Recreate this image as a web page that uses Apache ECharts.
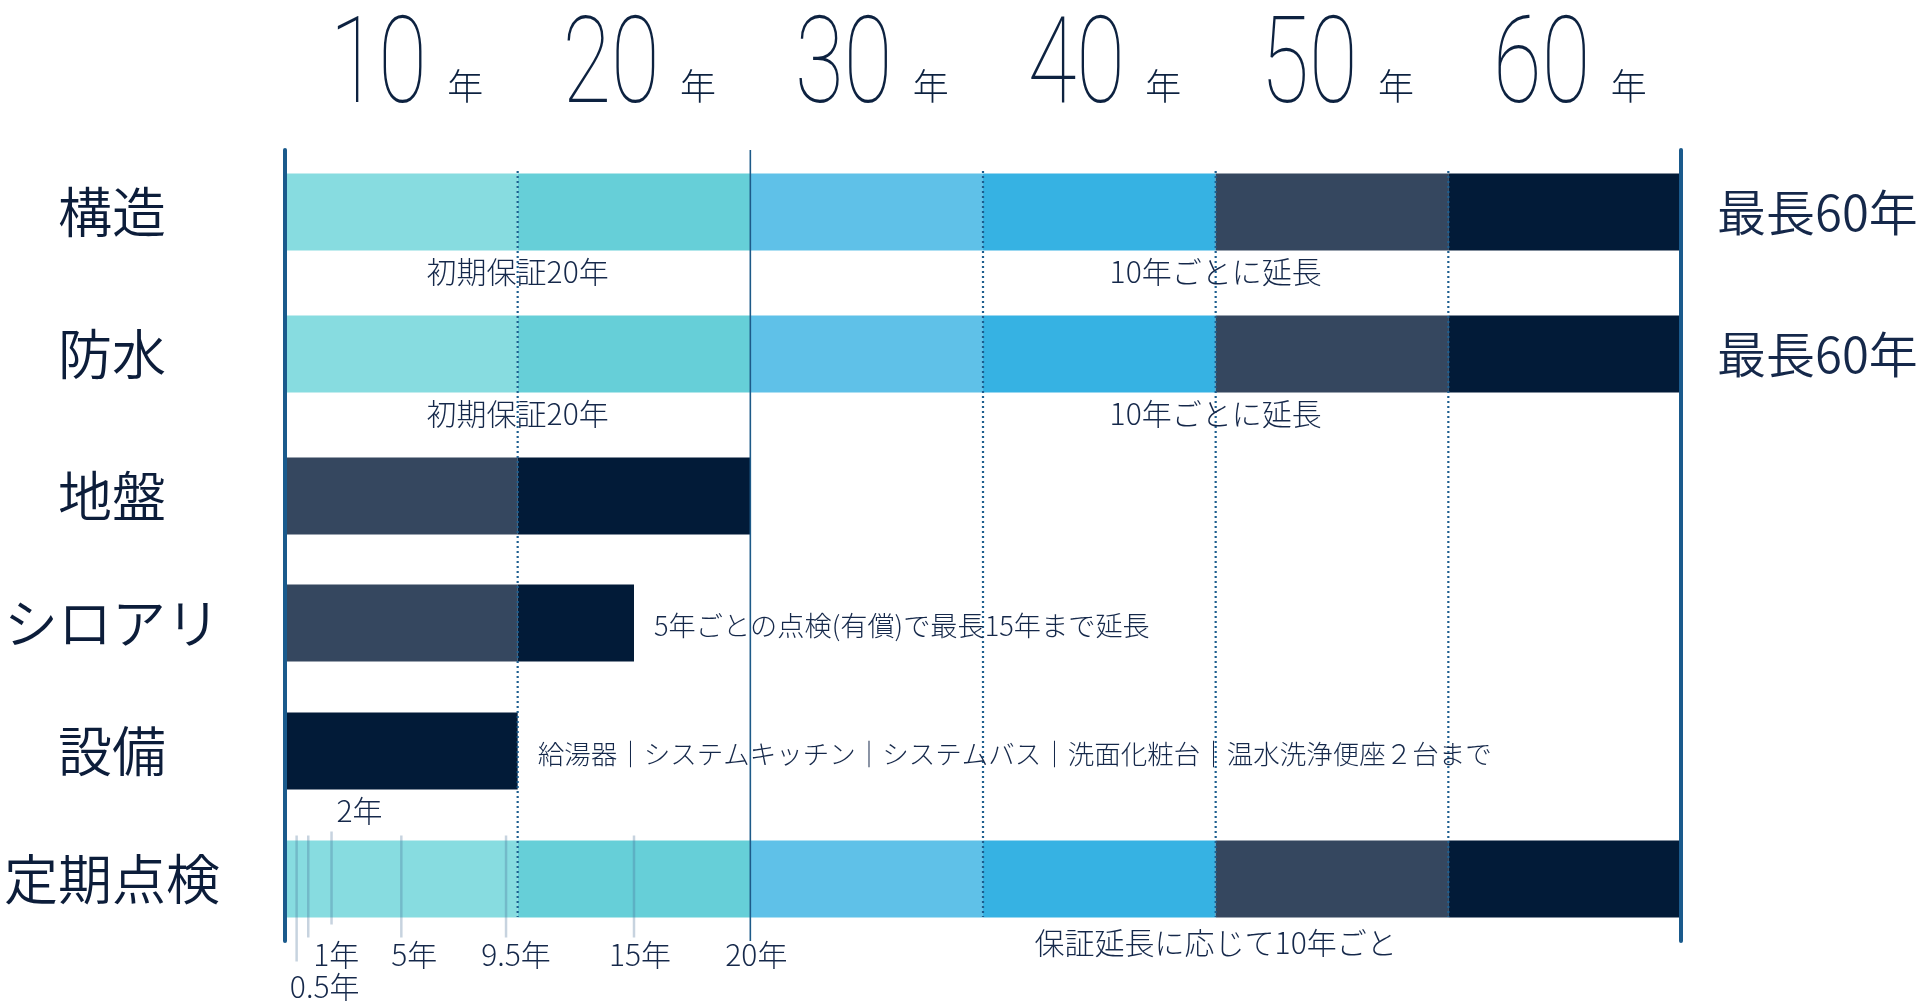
<!DOCTYPE html>
<html>
<head>
<meta charset="utf-8">
<script src="https://cdn.jsdelivr.net/npm/echarts@6/dist/echarts.min.js"></script>
<style>
html, body { margin: 0; padding: 0; background: #ffffff; }
#chart { width: 1920px; height: 1005px; }
</style>
</head>
<body>
<div id="chart"></div>
<script>
// ---------------- data ----------------
const upperRows = ['構造', '防水', '地盤'];
const lowerRows = ['シロアリ', '設備', '定期点検'];
const decadeLabels = ['10', '20', '30', '40', '50', '60'];
const yearUnit = '年';

// segment boundaries (years) per row, and colour tone of each segment
const structureYears  = [0, 10, 20, 30, 40, 50, 60];
const structureTones  = [0, 1, 2, 3, 4, 5];
const waterproofYears = [0, 10, 20, 30, 40, 50, 60];
const waterproofTones = [0, 1, 2, 3, 4, 5];
const groundYears     = [0, 10, 20];
const groundTones     = [4, 5];
const termiteYears    = [0, 10, 15];
const termiteTones    = [4, 5];
const equipmentYears  = [0, 10];
const equipmentTones  = [5];
const inspectionYears = [0, 10, 20, 30, 40, 50, 60];
const inspectionTones = [0, 1, 2, 3, 4, 5];

// periodic inspection ticks
const inspectionTicks = [0.5, 1, 2, 5, 9.5, 15];
const inspectionLabelYears = [0.5, 1, 2, 5, 9.5, 15, 20];
const inspectionLabels = ['0.5年', '1年', '2年', '5年', '9.5年', '15年', '20年'];

// guide lines
const solidGuideYears = [20];
const dottedGuideYears = [10, 30, 40, 50];
const axisMaxYears = 60;

// annotations: [row, anchor year, text, placement]
const upperNotes = [
  ['構造', 10, '初期保証20年', 'below'],
  ['構造', 40, '10年ごとに延長', 'below'],
  ['構造', 60, '最長60年', 'side'],
  ['防水', 10, '初期保証20年', 'below'],
  ['防水', 40, '10年ごとに延長', 'below'],
  ['防水', 60, '最長60年', 'side']
];
const lowerNotes = [
  ['シロアリ', 15, '5年ごとの点検(有償)で最長15年まで延長', 'after'],
  ['設備', 10, '給湯器｜システムキッチン｜システムバス｜洗面化粧台｜温水洗浄便座２台まで', 'after'],
  ['定期点検', 40, '保証延長に応じて10年ごと', 'below']
];

// ---------------- style ----------------
const palette = ['#87dce0', '#66cfd8', '#5fc1e8', '#36b2e3', '#35475f', '#021b38'];
const TEXT = '#15284a';
const AXIS_BLUE = '#1a5a8c';
const JP = '"Noto Sans CJK JP", "Noto Sans", sans-serif';
const NOTE_WEIGHT = 300;
const BAR_H = 77;
const GRID_L = 285, GRID_R = 239;
// label tiers for inspection ticks: 'low' (further below), 'high' (above bar)
const tickTier = { 0.5: 'low', 2: 'high' };
const tickLabelShift = { 0.5: 28, 1: 28, 2: 28, 5: 13, 9.5: 10, 15: 6, 20: 6 };

// ---------------- build ----------------
function buildSegments(rows, table) {
  const out = [];
  rows.forEach((name, ri) => {
    const years = table[name][0], tones = table[name][1];
    for (let i = 0; i < years.length - 1; i++) out.push([years[i], years[i + 1], ri, tones[i]]);
  });
  return out;
}
const upperSegments = buildSegments(upperRows, {
  '構造': [structureYears, structureTones],
  '防水': [waterproofYears, waterproofTones],
  '地盤': [groundYears, groundTones]
});
const lowerSegments = buildSegments(lowerRows, {
  'シロアリ': [termiteYears, termiteTones],
  '設備': [equipmentYears, equipmentTones],
  '定期点検': [inspectionYears, inspectionTones]
});

function barItem(params, api) {
  const r = api.value(2);
  const a = api.coord([api.value(0), r]);
  const b = api.coord([api.value(1), r]);
  return {
    type: 'rect',
    shape: { x: a[0], y: a[1] - BAR_H / 2, width: b[0] - a[0], height: BAR_H },
    style: { fill: palette[api.value(3)] }
  };
}

function noteRenderer(notes, belowGap) {
  return function (params, api) {
    const n = notes[params.dataIndex];
    const p = api.coord([api.value(0), api.value(1)]);
    let x = p[0], y = p[1], align = 'center', size = 30, weight = NOTE_WEIGHT;
    if (n[3] === 'below') { y = p[1] + BAR_H / 2 + belowGap; }
    else if (n[3] === 'after') { x = p[0] + 20; align = 'left'; size = n[2].length > 30 ? 26.5 : 27.2; y = p[1] + 3; }
    else if (n[3] === 'side') { x = p[0] + 36; align = 'left'; size = 49; weight = 350; }
    return {
      type: 'text', x: x, y: y,
      style: { text: n[2], align: align, verticalAlign: 'middle', fontSize: size, fontFamily: JP,
               fontWeight: weight, fill: TEXT }
    };
  };
}

function vGuide(color, width, dash) {
  return function (params, api) {
    const p = api.coord([api.value(0), 0]);
    const cs = params.coordSys;
    return {
      type: 'line',
      shape: { x1: p[0], y1: cs.y, x2: p[0], y2: cs.y + cs.height },
      style: { stroke: color, lineWidth: width, lineDash: dash }
    };
  };
}

const inspRow = lowerRows.indexOf('定期点検');

function tickLine(params, api) {
  const v = api.value(0);
  const p = api.coord([v, api.value(1)]);
  const top = p[1] - BAR_H / 2, bot = p[1] + BAR_H / 2;
  const tier = tickTier[v];
  let y1 = top - 5, y2 = bot + 20;
  if (tier === 'low') y2 = bot + 44;
  if (tier === 'high') { y1 = top - 9; y2 = bot + 7; }
  return {
    type: 'line',
    shape: { x1: p[0], y1: y1, x2: p[0], y2: y2 },
    style: { stroke: 'rgba(70,110,150,0.3)', lineWidth: 2.5 }
  };
}

function tickLabel(params, api) {
  const v = api.value(0);
  const p = api.coord([v, api.value(1)]);
  const top = p[1] - BAR_H / 2, bot = p[1] + BAR_H / 2;
  const tier = tickTier[v];
  let y = bot + 37;
  if (tier === 'low') y = bot + 69;
  if (tier === 'high') y = top - 30;
  return {
    type: 'text', x: p[0] + (tickLabelShift[v] || 8), y: y,
    style: { text: inspectionLabels[params.dataIndex], align: 'center', verticalAlign: 'middle', fontSize: 30,
             fontFamily: JP, fontWeight: NOTE_WEIGHT, fill: TEXT }
  };
}

function decadeItem(params, api) {
  const p = api.coord([api.value(0), 0]);
  const cs = params.coordSys;
  return {
    type: 'group',
    children: [
      {
        type: 'text', x: p[0] - 23, y: cs.y - 78, scaleX: 0.74,
        style: { text: decadeLabels[params.dataIndex], align: 'center', verticalAlign: 'middle', fontSize: 120, fontFamily: 'Roboto', fontWeight: 100, fill: '#0d2240' }
      },
      {
        type: 'text', x: p[0] + 64, y: cs.y - 64,
        style: { text: yearUnit, align: 'center', verticalAlign: 'middle', fontSize: 36, fontFamily: JP, fontWeight: NOTE_WEIGHT, fill: '#0d2240' }
      }
    ]
  };
}

const hiddenValueX = (gi) => ({ type: 'value', gridIndex: gi, min: 0, max: axisMaxYears, show: false });
const hiddenValueY = (gi) => ({ type: 'value', gridIndex: gi, min: 0, max: 1, show: false });
const rowAxis = (gi, rows) => ({
  type: 'category', gridIndex: gi, data: rows, inverse: true,
  axisLine: { show: false }, axisTick: { show: false }, splitLine: { show: false },
  axisLabel: { show: true, align: 'center', margin: GRID_L - 112, fontSize: 54, fontFamily: JP, fontWeight: 350, color: '#0c1d3a' }
});
const edgeAxis = (pos) => ({
  type: 'value', gridIndex: 2, min: 0, max: 1, position: pos, z: 10,
  axisLine: { show: true, onZero: false, lineStyle: { color: AXIS_BLUE, width: 4 } },
  axisTick: { show: false }, axisLabel: { show: false }, splitLine: { show: false }
});

const option = {
  animation: false,
  backgroundColor: '#ffffff',
  grid: [
    { left: GRID_L, right: GRID_R, top: 141, height: 426 },
    { left: GRID_L, right: GRID_R, top: 559, height: 384 },
    { left: GRID_L, right: GRID_R, top: 150, height: 791 },
    { left: GRID_L, right: GRID_R, top: 171, height: 746 }
  ],
  xAxis: [
    hiddenValueX(0),
    hiddenValueX(1),
    hiddenValueX(2),
    hiddenValueX(3),
    { type: 'category', gridIndex: 2, data: decadeLabels, position: 'top', show: false }
  ],
  yAxis: [
    rowAxis(0, upperRows),
    rowAxis(1, lowerRows),
    edgeAxis('left'),
    edgeAxis('right'),
    hiddenValueY(3)
  ],
  series: [
    { type: 'custom', name: 'upperBars', xAxisIndex: 0, yAxisIndex: 0, z: 2, renderItem: barItem,
      encode: { x: [0, 1], y: 2 }, data: upperSegments },
    { type: 'custom', name: 'lowerBars', xAxisIndex: 1, yAxisIndex: 1, z: 2, renderItem: barItem,
      encode: { x: [0, 1], y: 2 }, data: lowerSegments },
    { type: 'custom', name: 'inspectionTicks', xAxisIndex: 1, yAxisIndex: 1, z: 4, renderItem: tickLine,
      encode: { x: 0, y: 1 }, data: inspectionTicks.map(v => [v, inspRow]) },
    { type: 'custom', name: 'inspectionLabels', xAxisIndex: 1, yAxisIndex: 1, z: 6, renderItem: tickLabel,
      encode: { x: 0, y: 1 }, data: inspectionLabelYears.map(v => [v, inspRow]) },
    { type: 'custom', name: 'solidGuide', xAxisIndex: 2, yAxisIndex: 2, z: 5, renderItem: vGuide('#1d5a88', 1.6, null),
      encode: { x: 0, y: 1 }, data: solidGuideYears.map(v => [v, 0]) },
    { type: 'custom', name: 'dottedGuide', xAxisIndex: 3, yAxisIndex: 4, z: 5, renderItem: vGuide('#1d5e8f', 2.2, [2, 3]),
      encode: { x: 0, y: 1 }, data: dottedGuideYears.map(v => [v, 0]) },
    { type: 'custom', name: 'upperNotes', xAxisIndex: 0, yAxisIndex: 0, z: 6, renderItem: noteRenderer(upperNotes, 21),
      encode: { x: 0, y: 1 }, data: upperNotes.map(n => [n[1], upperRows.indexOf(n[0])]) },
    { type: 'custom', name: 'lowerNotes', xAxisIndex: 1, yAxisIndex: 1, z: 6, renderItem: noteRenderer(lowerNotes, 25),
      encode: { x: 0, y: 1 }, data: lowerNotes.map(n => [n[1], lowerRows.indexOf(n[0])]) },
    { type: 'custom', name: 'decades', xAxisIndex: 4, yAxisIndex: 2, z: 6, renderItem: decadeItem,
      encode: { x: 0, y: 1 }, data: decadeLabels.map((d, i) => [i, 0]) }
  ]
};

const chart = echarts.init(document.getElementById('chart'), null, { renderer: 'canvas' });
chart.setOption(option);
</script>
</body>
</html>
